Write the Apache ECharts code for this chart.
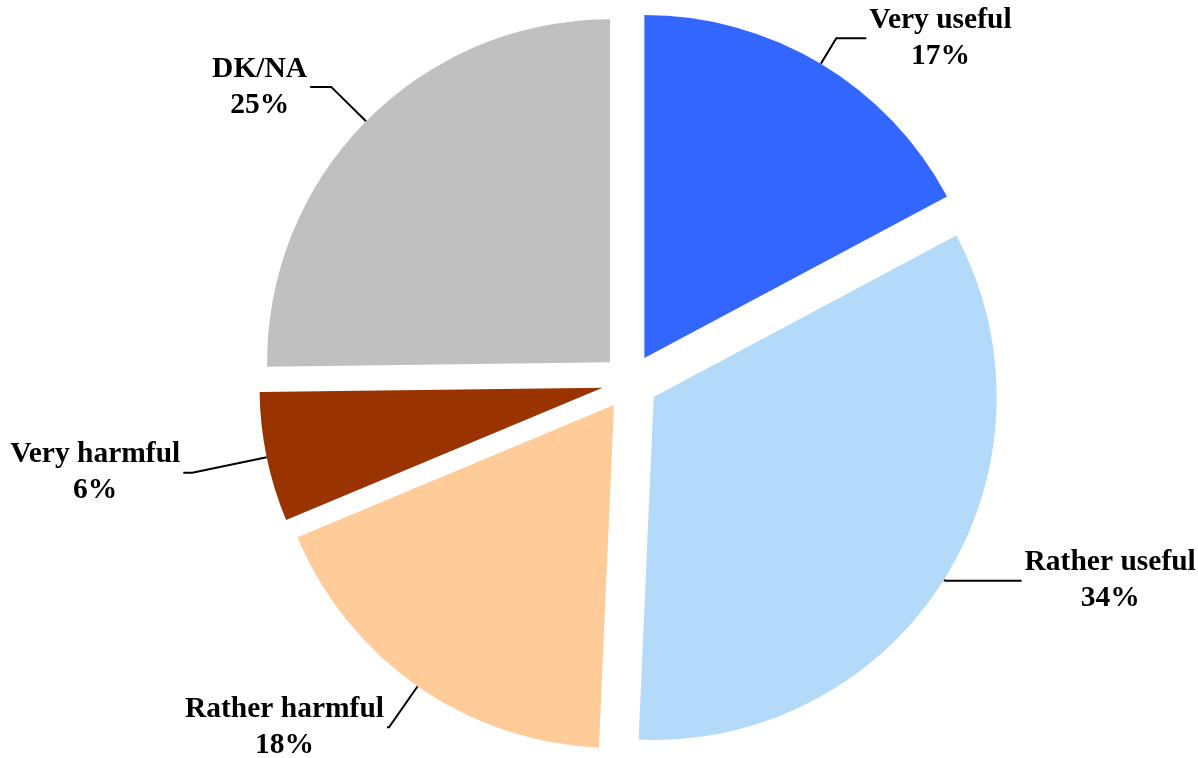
<!DOCTYPE html>
<html>
<head>
<meta charset="utf-8">
<script src="https://cdn.jsdelivr.net/npm/echarts@6/dist/echarts.min.js"></script>
<style>
  html, body { margin: 0; padding: 0; background: #fff; }
  #chart { width: 1198px; height: 758px; }
</style>
</head>
<body>
<div id="chart"></div>
<script>
// data
const categories = ['Very useful', 'Rather useful', 'Rather harmful', 'Very harmful', 'DK/NA']
const shares = [17.2, 33.5, 18.0, 6.1, 25.2]
const colors = ['#3366ff', '#b3daf9', '#ffcc99', '#993300', '#c0c0c0']

// leader line lengths per slice (radial part, horizontal part)
const lineLen = [30, 2, 50, 76, 49]
const lineLen2 = [30, 76, 2, 9, 21]

const chart = echarts.init(document.getElementById('chart'))

const option = {
  backgroundColor: '#fff',
  animation: false,
  series: [
    {
      type: 'pie',
      left: 0,
      top: 0,
      width: 1400,
      height: 758,
      center: [630, 382],
      radius: [0, 343],
      startAngle: 90,
      clockwise: true,
      selectedMode: 'multiple',
      selectedOffset: 28,
      avoidLabelOverlap: false,
      emphasis: { disabled: true },
      select: { itemStyle: { borderWidth: 0 } },
      label: {
        show: true,
        position: 'outside',
        distanceToLabelLine: 3,
        overflow: 'none',
        formatter: p => `{c|${p.name}}\n{c|${Math.round(p.value)}%}`,
        rich: {
          c: {
            align: 'center',
            fontFamily: '"Liberation Serif", "Times New Roman", serif',
            fontWeight: 'bold',
            fontSize: 29.5,
            lineHeight: 36,
            color: '#000'
          }
        }
      },
      labelLine: {
        show: true,
        lineStyle: { color: '#000', width: 2 }
      },
      data: categories.map((name, i) => ({
        name: name,
        value: shares[i],
        selected: true,
        itemStyle: { color: colors[i] },
        labelLine: { length: lineLen[i], length2: lineLen2[i] }
      }))
    }
  ]
}

chart.setOption(option)
</script>
</body>
</html>
